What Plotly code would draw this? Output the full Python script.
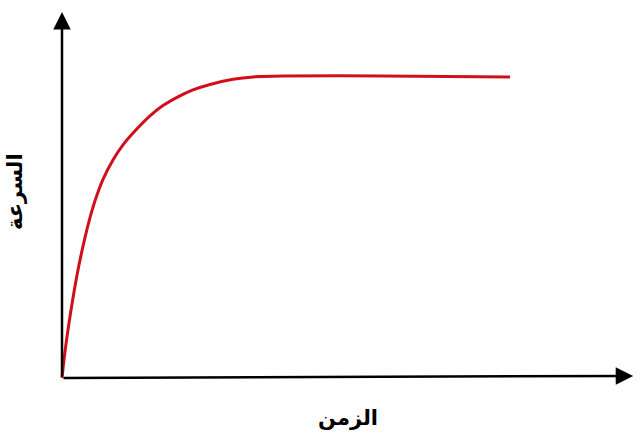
import plotly.graph_objects as go

# Data (time, speed); plateau speed = 10
time = [0, 0.056, 0.134, 0.246, 0.379, 0.513, 0.625, 0.737, 0.915, 1.138, 1.362, 1.674,
        1.964, 2.254, 2.589, 2.924, 3.304, 3.817, 4.263, 4.933, 7.165, 10.0]
speed = [0, 0.745, 1.60, 2.66, 3.74, 4.65, 5.31, 5.87, 6.58, 7.22, 7.72, 8.25,
         8.68, 9.02, 9.31, 9.54, 9.72, 9.89, 9.97, 10.0, 10.0, 9.97]

x_label = "الزمن"
y_label = "السرعة"

x_axis_end = 12.75
y_axis_end = 12.12

fig = go.Figure()
fig.add_trace(go.Scatter(
    x=time, y=speed, mode="lines",
    line=dict(color="#d10f1b", width=3, shape="spline", smoothing=0.8),
    hoverinfo="skip", showlegend=False,
))

# axis arrows
fig.add_annotation(x=x_axis_end, y=0.07, ax=0, ay=0, xref="x", yref="y",
                   axref="x", ayref="y", text="", showarrow=True,
                   arrowhead=2, arrowsize=1.4, arrowwidth=2.5, arrowcolor="#000")
fig.add_annotation(x=0, y=y_axis_end, ax=0, ay=0, xref="x", yref="y",
                   axref="x", ayref="y", text="", showarrow=True,
                   arrowhead=2, arrowsize=1.4, arrowwidth=2.5, arrowcolor="#000")

# axis titles
fig.add_annotation(x=348 / 640, y=1 - 418 / 438, xref="paper", yref="paper",
                   xanchor="center", yanchor="middle",
                   text="<b>" + x_label + "</b>", showarrow=False,
                   font=dict(family="DejaVu Sans", size=21, color="#000"))
fig.add_annotation(x=15 / 640, y=1 - 192 / 438, xref="paper", yref="paper",
                   xanchor="center", yanchor="middle",
                   text="<b>" + y_label + "</b>", showarrow=False, textangle=-90,
                   font=dict(family="DejaVu Sans", size=21, color="#000"))

fig.update_layout(
    width=640, height=438,
    margin=dict(l=0, r=0, t=0, b=0),
    paper_bgcolor="white", plot_bgcolor="white",
    xaxis=dict(range=[-62 / 44.8, 578 / 44.8], visible=False, fixedrange=True),
    yaxis=dict(range=[-60 / 30.2, 378 / 30.2], visible=False, fixedrange=True),
)

fig.write_html("out.html")
